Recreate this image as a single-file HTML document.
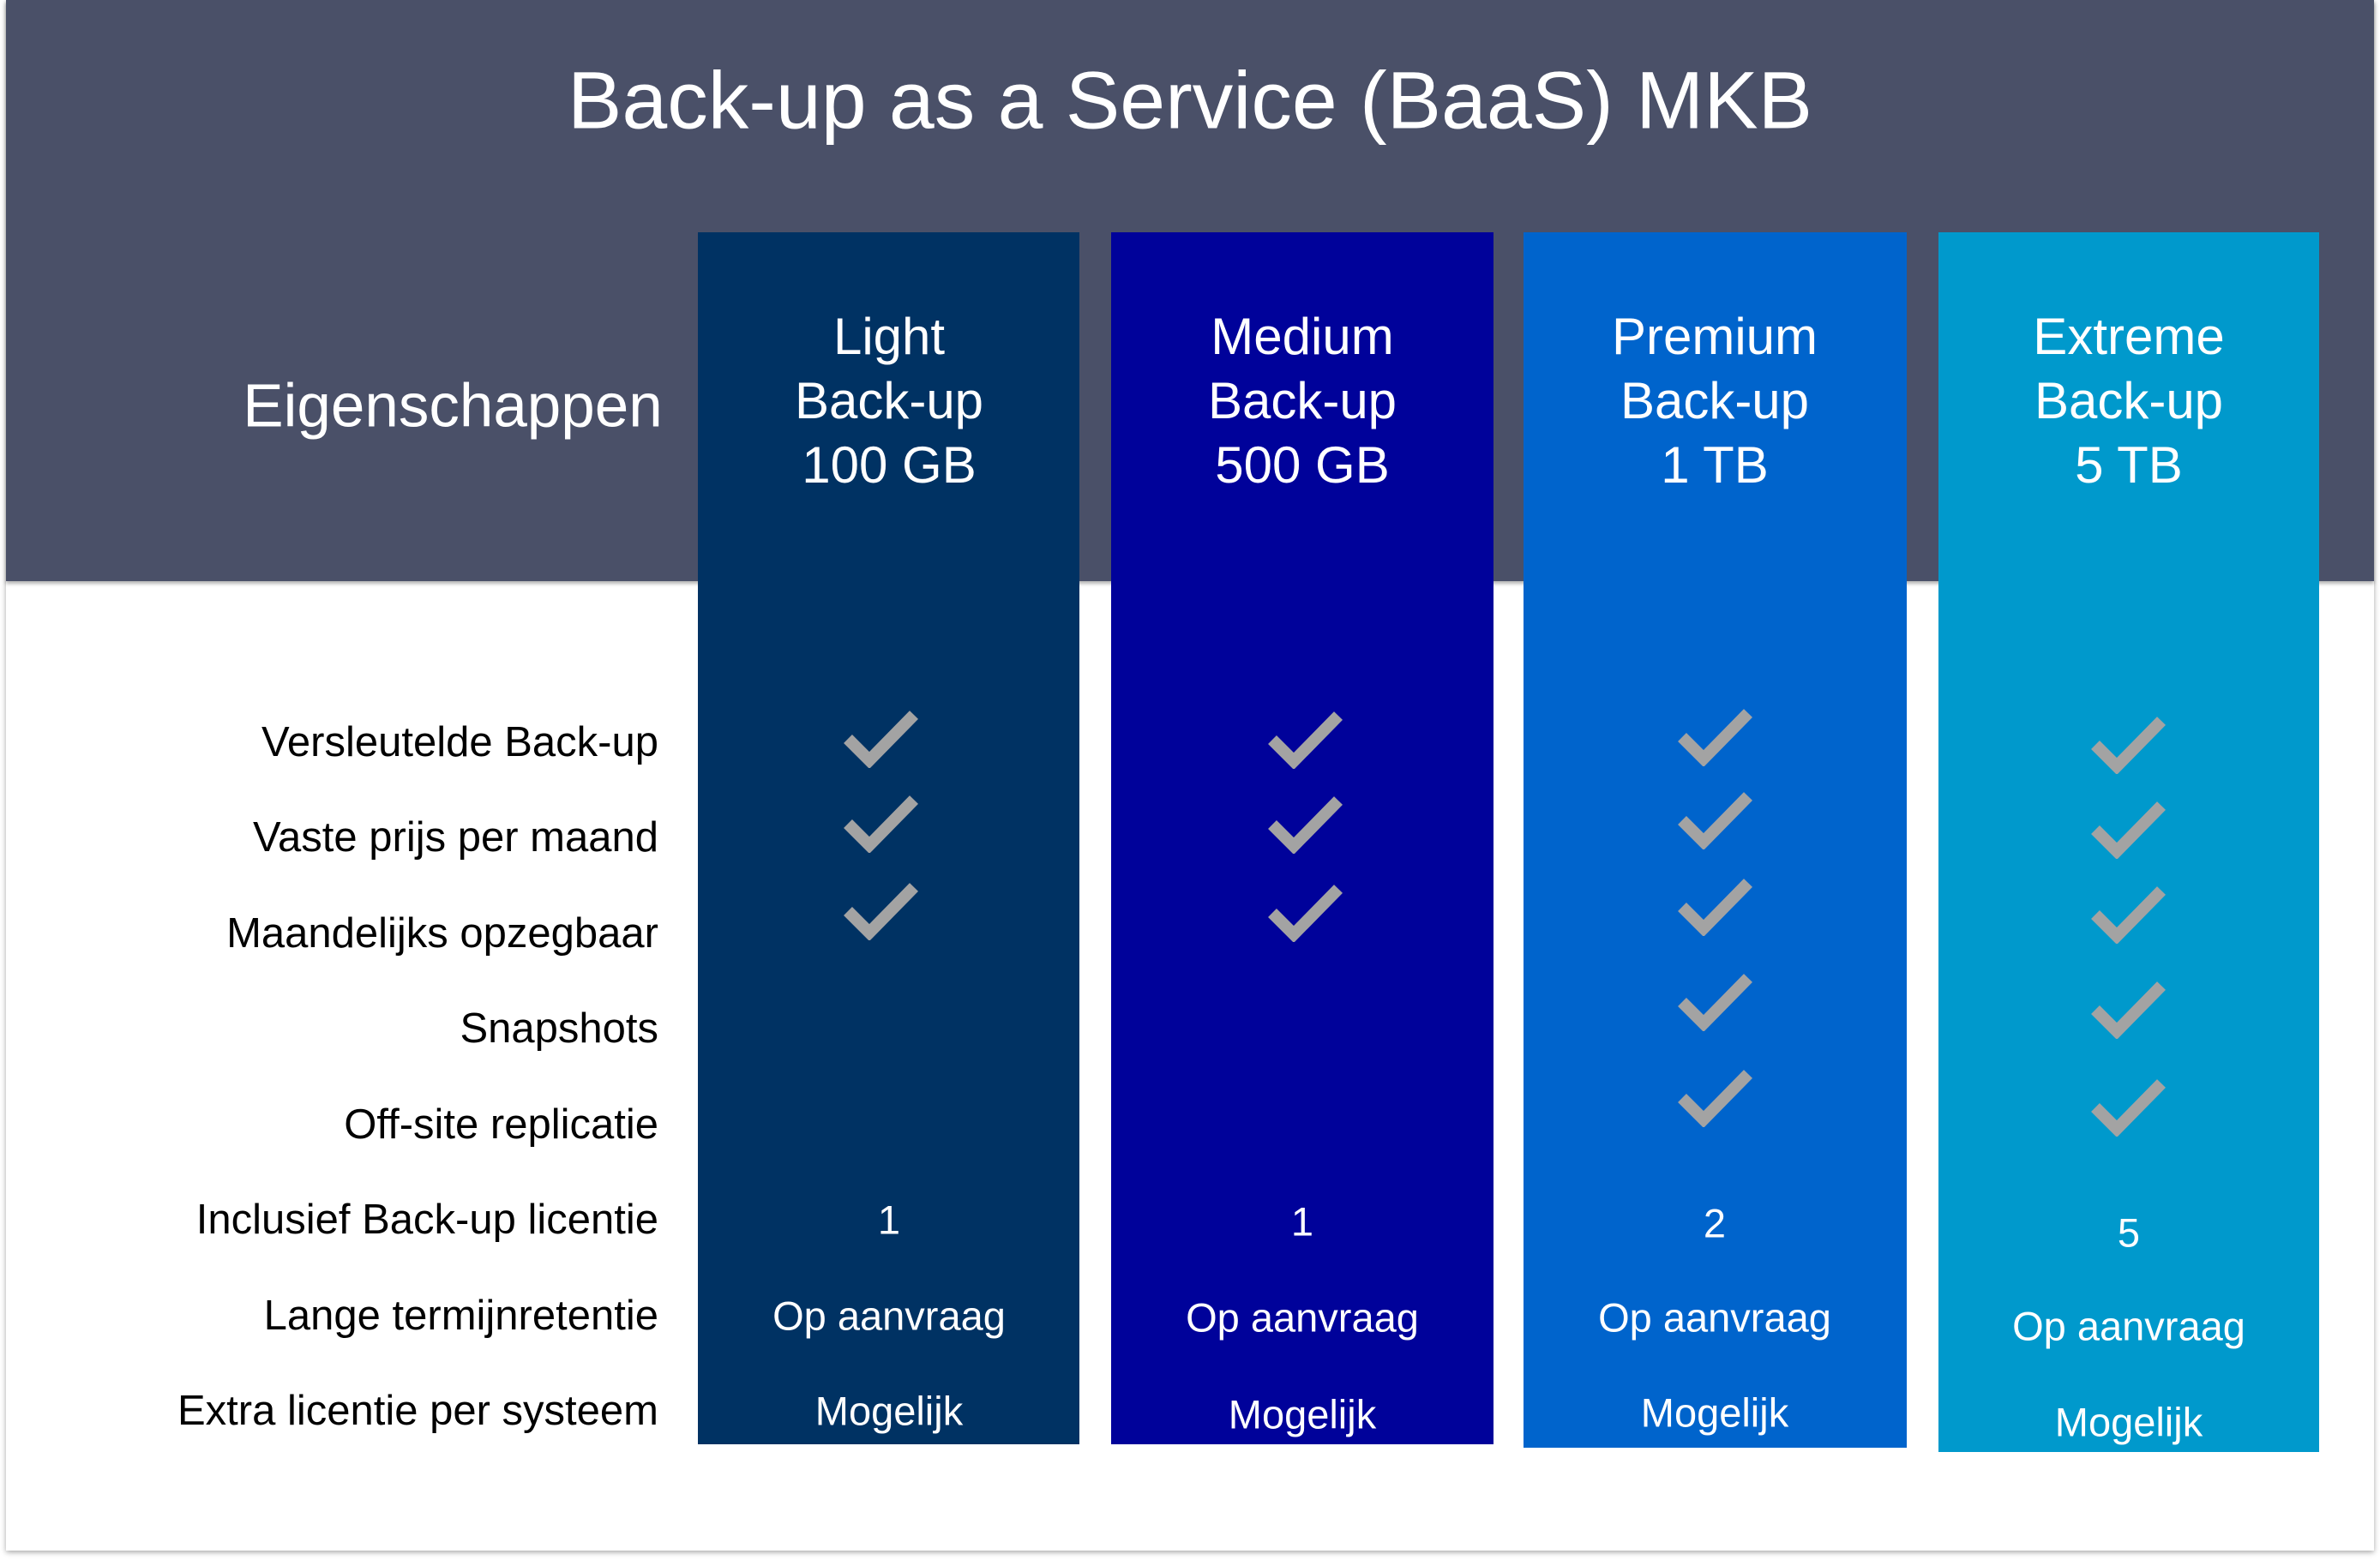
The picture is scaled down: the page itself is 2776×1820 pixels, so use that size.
<!DOCTYPE html>
<html><head><meta charset="utf-8">
<style>
html,body{margin:0;padding:0;}
body{width:2776px;height:1820px;position:relative;background:#fff;overflow:hidden;font-family:"Liberation Sans",sans-serif;}
.frame{position:absolute;left:7px;top:0;width:2762px;height:1809px;background:#fff;box-shadow:0 2px 6px rgba(0,0,0,0.35);}
.hdr{position:absolute;left:7px;top:0;width:2762px;height:678px;background:#4a5068;box-shadow:0 3px 4px rgba(0,0,0,0.3);}
.col{position:absolute;top:271px;}
.t{position:absolute;transform:translate(-50%,-50%);white-space:nowrap;color:#fff;}
.r{position:absolute;transform:translate(-100%,-50%);white-space:nowrap;color:#000;font-size:49px;}
.ch{position:absolute;text-align:center;color:#fff;font-size:60px;line-height:75px;transform:translateX(-50%);}
.v{font-size:47px;}
svg.c{position:absolute;width:88px;height:70px;}
</style></head><body>
<div class="frame"></div>
<div class="hdr"></div>
<div class="t" style="left:1388px;top:118px;font-size:95px;">Back-up as a Service (BaaS) MKB</div>
<div class="t" style="left:528px;top:474px;font-size:71px;">Eigenschappen</div>

<div class="col" style="left:814px;width:445px;height:1414px;background:#003263;"></div>
<div class="col" style="left:1296px;width:446px;height:1414px;background:#00029a;"></div>
<div class="col" style="left:1777px;width:447px;height:1418px;background:#0064cc;"></div>
<div class="col" style="left:2261px;width:444px;height:1423px;background:#0099cc;"></div>

<div class="ch" style="left:1037px;top:355px;">Light<br>Back-up<br>100 GB</div>
<div class="ch" style="left:1519px;top:355px;">Medium<br>Back-up<br>500 GB</div>
<div class="ch" style="left:2000px;top:355px;">Premium<br>Back-up<br>1 TB</div>
<div class="ch" style="left:2483px;top:355px;">Extreme<br>Back-up<br>5 TB</div>

<div class="r" style="left:768px;top:866px;">Versleutelde Back-up</div>
<div class="r" style="left:768px;top:977px;">Vaste prijs per maand</div>
<div class="r" style="left:768px;top:1089px;">Maandelijks opzegbaar</div>
<div class="r" style="left:768px;top:1200px;">Snapshots</div>
<div class="r" style="left:768px;top:1312px;">Off-site replicatie</div>
<div class="r" style="left:768px;top:1423px;">Inclusief Back-up licentie</div>
<div class="r" style="left:768px;top:1535px;">Lange termijnretentie</div>
<div class="r" style="left:768px;top:1646px;">Extra licentie per systeem</div>

<svg width="0" height="0" style="position:absolute"><defs><symbol id="ck" viewBox="0 0 88 70"><polyline points="6,36 31,61 83,8" fill="none" stroke="#a3a3a3" stroke-width="14"/></symbol></defs></svg>

<svg class="c" style="left:983px;top:826px"><use href="#ck"/></svg>
<svg class="c" style="left:983px;top:925px"><use href="#ck"/></svg>
<svg class="c" style="left:983px;top:1027px"><use href="#ck"/></svg>

<svg class="c" style="left:1478px;top:827px"><use href="#ck"/></svg>
<svg class="c" style="left:1478px;top:926px"><use href="#ck"/></svg>
<svg class="c" style="left:1478px;top:1029px"><use href="#ck"/></svg>

<svg class="c" style="left:1956px;top:824px"><use href="#ck"/></svg>
<svg class="c" style="left:1956px;top:921px"><use href="#ck"/></svg>
<svg class="c" style="left:1956px;top:1022px"><use href="#ck"/></svg>
<svg class="c" style="left:1956px;top:1133px"><use href="#ck"/></svg>
<svg class="c" style="left:1956px;top:1245px"><use href="#ck"/></svg>

<svg class="c" style="left:2438px;top:833px"><use href="#ck"/></svg>
<svg class="c" style="left:2438px;top:932px"><use href="#ck"/></svg>
<svg class="c" style="left:2438px;top:1031px"><use href="#ck"/></svg>
<svg class="c" style="left:2438px;top:1142px"><use href="#ck"/></svg>
<svg class="c" style="left:2438px;top:1256px"><use href="#ck"/></svg>

<div class="t v" style="left:1037px;top:1423px;">1</div>
<div class="t v" style="left:1037px;top:1535px;">Op aanvraag</div>
<div class="t v" style="left:1037px;top:1646px;">Mogelijk</div>

<div class="t v" style="left:1519px;top:1425px;">1</div>
<div class="t v" style="left:1519px;top:1537px;">Op aanvraag</div>
<div class="t v" style="left:1519px;top:1650px;">Mogelijk</div>

<div class="t v" style="left:2000px;top:1427px;">2</div>
<div class="t v" style="left:2000px;top:1537px;">Op aanvraag</div>
<div class="t v" style="left:2000px;top:1648px;">Mogelijk</div>

<div class="t v" style="left:2483px;top:1438px;">5</div>
<div class="t v" style="left:2483px;top:1547px;">Op aanvraag</div>
<div class="t v" style="left:2483px;top:1659px;">Mogelijk</div>
</body></html>
